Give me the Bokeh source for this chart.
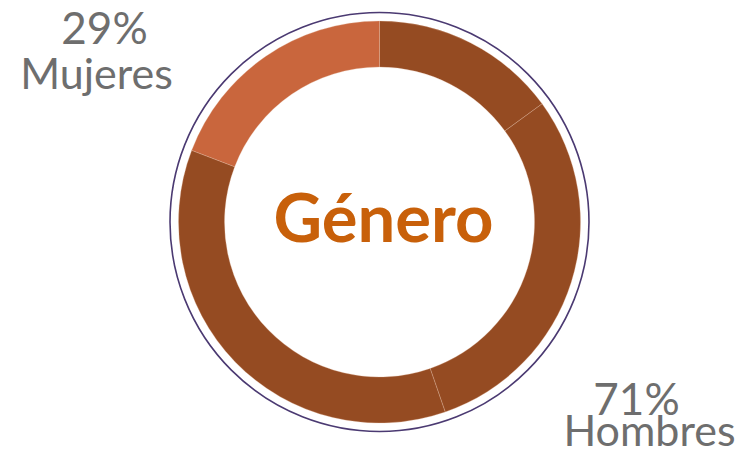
from bokeh.plotting import figure
from bokeh.models import Range1d, ColumnDataSource
from bokeh.core.properties import value
from bokeh.embed import file_html
from bokeh.resources import INLINE
import math

# --- data (slice shares, clockwise from 12 o'clock) ---
slice_groups = ["Hombres", "Hombres", "Hombres", "Mujeres"]
slice_values = [15.0, 29.7, 36.1, 19.2]
slice_colors = ["#954B22", "#954B22", "#954B22", "#C9663D"]
label_pcts = ["71%", "29%"]
label_names = ["Hombres", "Mujeres"]
title_text = "Género"

W, H = 754, 457
p = figure(width=W, height=H, output_backend="svg", toolbar_location=None,
           x_range=Range1d(0, W), y_range=Range1d(0, H),
           min_border=0, min_border_left=0, min_border_right=0,
           min_border_top=0, min_border_bottom=0)
p.axis.visible = False
p.grid.visible = False
p.outline_line_color = None
p.background_fill_color = "white"

cx, cy = 379, H - 221.5
total = sum(slice_values)
starts, ends = [], []
acc = 0.0
for v in slice_values:
    a1 = acc / total * 2 * math.pi
    acc += v
    a2 = acc / total * 2 * math.pi
    # clockwise from top -> bokeh ccw from +x
    starts.append(math.pi / 2 - a2)
    ends.append(math.pi / 2 - a1)

src = ColumnDataSource(dict(x=[cx] * len(slice_values), y=[cy] * len(slice_values),
                            start=starts, end=ends, color=slice_colors))
p.annular_wedge(x="x", y="y", inner_radius=155, outer_radius=201,
                start_angle="start", end_angle="end", fill_color="color",
                line_color="#E8C0A8", line_width=0.6, line_alpha=0.5, source=src)

# thin outer ring
p.circle(x=[cx], y=[cy], radius=209.5, fill_color=None,
         line_color="#4B3A72", line_width=1.6)

# centre title
p.text(x=[383], y=[H - 241.5 + 26], text=[title_text], text_align="center",
       text_baseline="alphabetic", text_font=value("Lato"), text_font_style="bold",
       text_font_size="67px", text_color="#C8600A")

# labels
grey = "#6E6E6E"
off = 19
p.text(x=[636, 104], y=[H - 416 + off, H - 45 + off], text=label_pcts, text_align="center",
       text_baseline="alphabetic", text_font=value("Lato"),
       text_font_size="44px", text_color=grey)
p.text(x=[649, 96], y=[H - 448 + off, H - 91 + off], text=label_names, text_align="center",
       text_baseline="alphabetic", text_font=value("Lato"),
       text_font_size="43px", text_color=grey)

open("out.html", "w").write(file_html(p, INLINE))
